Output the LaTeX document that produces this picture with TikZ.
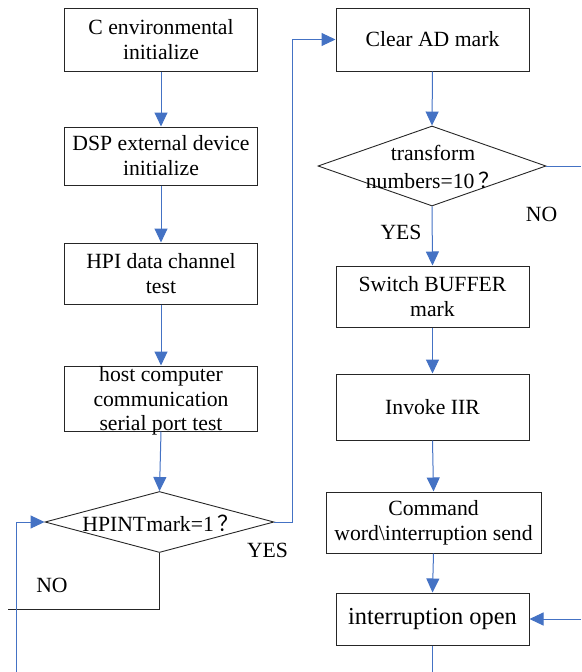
\documentclass[tikz,border=0pt]{standalone}
\usepackage{fontspec}
\setmainfont{Liberation Serif}
\newfontfamily\cjkfont{Noto Sans CJK SC}
\usetikzlibrary{shapes.geometric,arrows.meta}
\definecolor{flowblue}{RGB}{68,114,196}
\begin{document}
\begin{tikzpicture}[x=1pt,y=-1pt,
  box/.style={draw=black!85, line width=1pt, minimum width=193pt, align=center, inner sep=0pt, font=\fontsize{21.7pt}{25pt}\selectfont},
  dia/.style={draw=black!85, line width=0.9pt, diamond, inner sep=0pt},
  txt/.style={align=center, inner sep=0pt, font=\fontsize{21.7pt}{25pt}\selectfont},
  arr/.style={draw=flowblue, line width=1pt, -{Triangle[length=14pt,width=13pt]}},
  ln/.style={draw=flowblue, line width=1pt},
  blk/.style={draw=black!85, line width=1pt}
]
\useasboundingbox (0,0) rectangle (581,672);

% left column
\node[box, minimum height=63pt] (b1) at (161,39.5) {C environmental\\initialize};
\node[box, minimum height=58pt] (b2) at (161,156) {DSP external device\\initialize};
\node[box, minimum height=61pt] (b3) at (161,273.5) {HPI data channel\\test};
\node[box, minimum height=65pt] (b4) at (161,398.5) {};
\node[txt, font=\fontsize{21.7pt}{24.5pt}\selectfont] (b4t) at (161,401) {host computer\\communication\\serial port test};
\node[dia, minimum width=229pt, minimum height=61pt] (d1) at (159.5,522) {};
\node[txt] (d1t) at (161,523) {HPINTmark=1\hspace{4pt}{\cjkfont ？}};

% right column
\node[box, minimum height=63pt] (c1) at (432.5,39.5) {Clear AD mark};
\node[dia, minimum width=228pt, minimum height=80pt] (d2) at (432,166) {};
\node[txt, font=\fontsize{21.7pt}{28pt}\selectfont] (d2t) at (433,167) {transform\\numbers=10\hspace{4pt}{\cjkfont ？}};
\node[box, minimum height=61pt] (s1) at (432.5,296.5) {Switch BUFFER\\mark};
\node[box, minimum height=66pt] (iv) at (432.5,407) {Invoke IIR};
\node[box, minimum width=215pt, minimum height=61pt] (cm) at (433.5,522.5) {Command\\word\textbackslash interruption send};
\node[box, minimum height=52pt, font=\fontsize{24.4pt}{28pt}\selectfont] (io) at (432.5,619) {interruption open};

% labels
\node[txt] (y1) at (267.5,550) {YES};
\node[txt] (n1) at (52,585) {NO};
\node[txt] (n2) at (541.5,214) {NO};
\node[txt] (y2) at (401,232) {YES};

% helper coordinates
\coordinate (k1) at (292,39.5);
\coordinate (nb) at (8,609);
\coordinate (lb) at (16,672);
\coordinate (re) at (581,166);
\coordinate (ri) at (581,619);
\coordinate (bo) at (432.5,672);

% connectors
\draw[arr] (b1.south) -- (b2.north);
\draw[arr] (b2.south) -- (b3.north);
\draw[arr] (b3.south) -- (b4.north);
\draw[arr] (b4.south) -- (d1.north);
\draw[arr] (d1.east) -| (k1) -- (c1.west);
\draw[blk] (d1.south) |- (nb);
\draw[arr] (lb) |- (d1.west);
\draw[arr] (c1.south) -- (d2.north);
\draw[ln] (d2.east) -- (re);
\draw[arr] (d2.south) -- (s1.north);
\draw[arr] (s1.south) -- (iv.north);
\draw[arr] (iv.south) -- (cm.north);
\draw[arr] (cm.south) -- (io.north);
\draw[arr] (ri) -- (io.east);
\draw[ln] (io.south) -- (bo);
\end{tikzpicture}
\end{document}
